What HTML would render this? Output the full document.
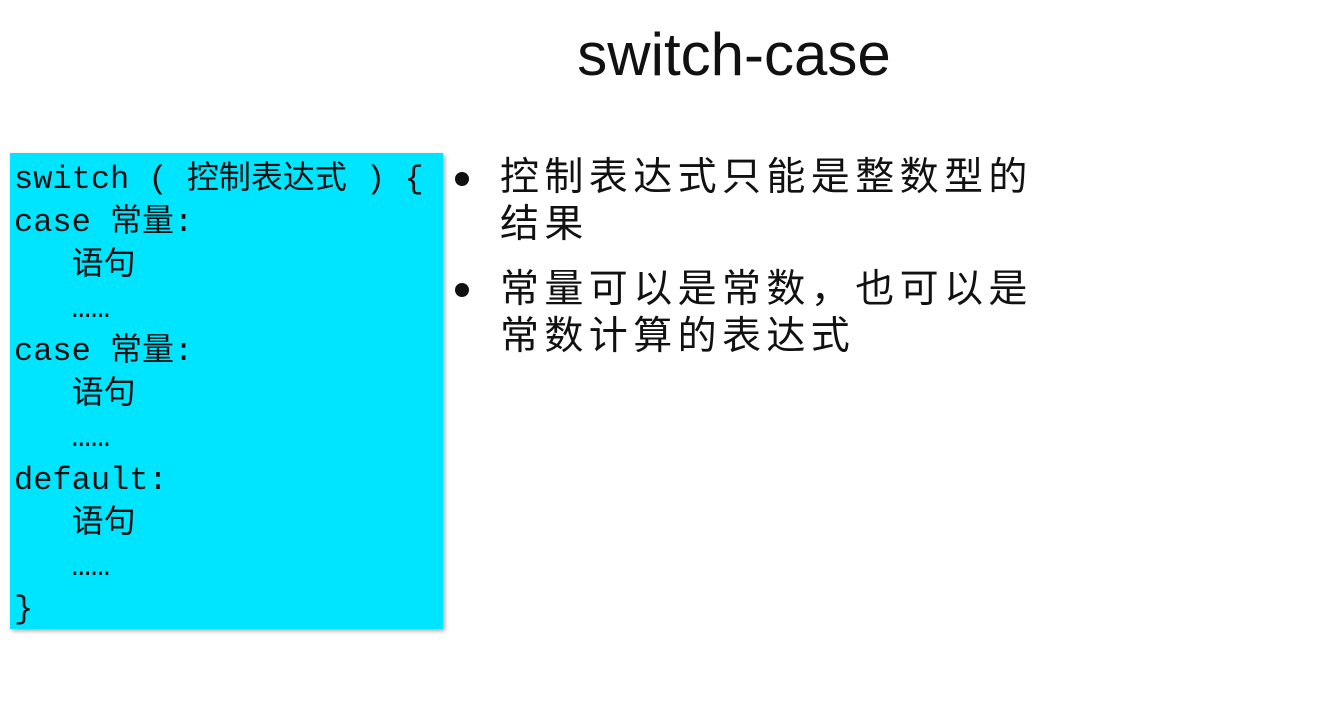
<!DOCTYPE html>
<html><head><meta charset="utf-8"><style>
body{margin:0;width:1343px;height:726px;background:#fff;position:relative;overflow:hidden;font-family:"Liberation Sans","Noto Sans CJK SC",sans-serif;}
.t{position:absolute;left:0;width:1468px;top:20px;text-align:center;font-size:60px;color:#111;}
.box{position:absolute;left:10px;top:153px;width:433px;height:476px;background:#00e5ff;box-shadow:2px 2px 4px rgba(0,0,0,.35);}
.code{position:absolute;left:14px;top:158px;font-family:"Liberation Mono","Noto Sans CJK SC",monospace;font-size:32px;line-height:43px;color:#111;white-space:pre;}
.b{position:absolute;left:500px;font-size:39px;letter-spacing:5.4px;line-height:47px;color:#111;}
.dot{position:absolute;left:455px;width:14px;height:14px;border-radius:50%;background:#111;}
</style></head><body>
<div class="t">switch-case</div>
<div class="box"></div>
<div class="code">switch ( 控制表达式 ) {
case 常量:
   语句
   ……
case 常量:
   语句
   ……
default:
   语句
   ……
}</div>
<div class="dot" style="top:172px"></div>
<div class="b" style="top:154px">控制表达式只能是整数型的<br>结果</div>
<div class="dot" style="top:283px"></div>
<div class="b" style="top:266px">常量可以是常数，也可以是<br>常数计算的表达式</div>
</body></html>
